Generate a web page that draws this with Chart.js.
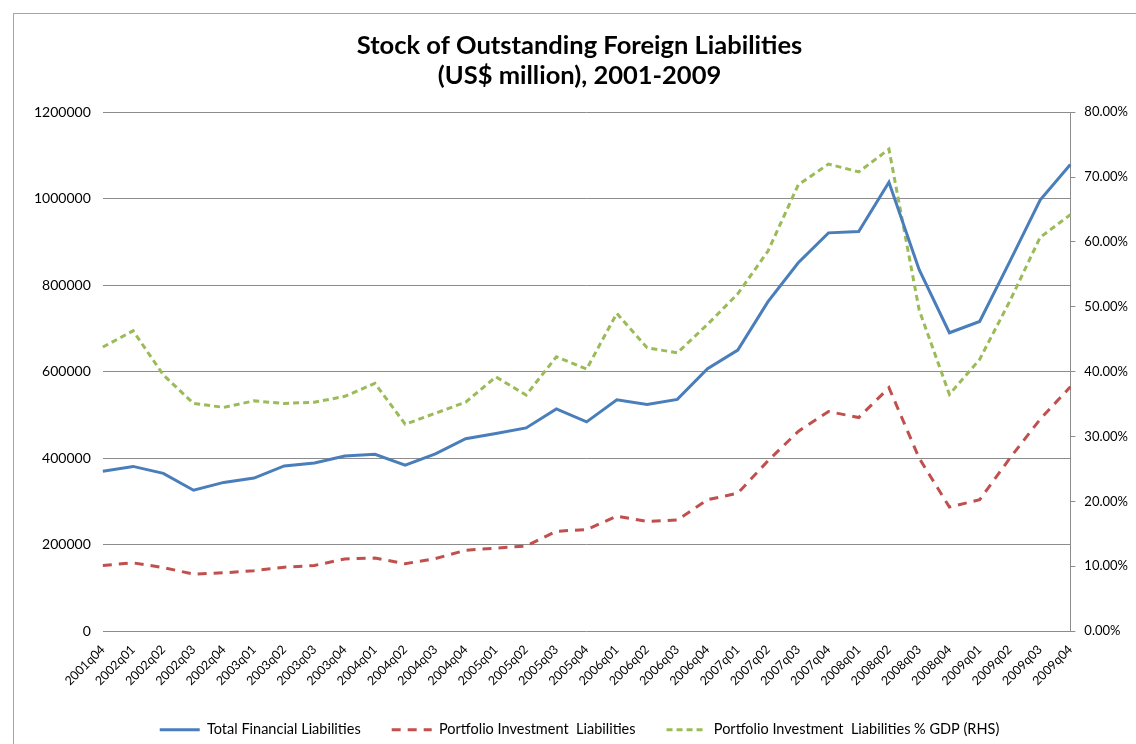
<!DOCTYPE html>
<html>
<head>
<meta charset="utf-8">
<script src="https://cdn.jsdelivr.net/npm/chart.js@4"></script>
<style>
  html, body { margin: 0; padding: 0; background: #fff; }
  #wrap { position: relative; width: 1136px; height: 744px; overflow: hidden; }
  #frame { position: absolute; left: 13px; top: 13px; width: 1200px; height: 800px; border: 1px solid #a6a6a6; }
  #box { position: absolute; left: 0; top: 0; width: 1136px; height: 744px; }
</style>
</head>
<body>
<div id="wrap">
  <div id="frame"></div>
  <div id="box"><canvas id="myChart" width="1136" height="744"></canvas></div>
</div>
<script>
// Dati
const quarters = ['2001q04',
  '2002q01', '2002q02', '2002q03', '2002q04',
  '2003q01', '2003q02', '2003q03', '2003q04',
  '2004q01', '2004q02', '2004q03', '2004q04',
  '2005q01', '2005q02', '2005q03', '2005q04',
  '2006q01', '2006q02', '2006q03', '2006q04',
  '2007q01', '2007q02', '2007q03', '2007q04',
  '2008q01', '2008q02', '2008q03', '2008q04',
  '2009q01', '2009q02', '2009q03', '2009q04'];

const totalLiabilities = [370000,
  381000, 365000, 326000, 344000,
  354000, 382000, 389000, 405000,
  409000, 384000, 410000, 445000,
  457000, 470000, 514000, 484000,
  535000, 524000, 536000, 607000,
  650000, 762000, 852000, 921000,
  924000, 1038000, 836000, 690000,
  716000, 855000, 997000, 1079000];

const portfolioLiabilities = [152000,
  158000, 147000, 132000, 135000,
  140000, 148000, 152000, 167000,
  169000, 156000, 168000, 187000,
  192000, 197000, 231000, 235000,
  266000, 254000, 257000, 304000,
  319000, 394000, 462000, 508000,
  494000, 563000, 400000, 287000,
  304000, 400000, 490000, 565000];

const portfolioPctGdp = [43.8,
  46.3, 39.5, 35.1, 34.5,
  35.5, 35.1, 35.3, 36.2,
  38.2, 31.9, 33.6, 35.3,
  39.2, 36.4, 42.3, 40.4,
  49.0, 43.7, 42.9, 47.3,
  52.0, 58.6, 68.8, 72.0,
  70.8, 74.3, 49.5, 36.5,
  41.9, 50.9, 60.7, 64.2];

const leftTicks = [0, 1200000, 200000];   // min, max, passo
const rightTicks = [0, 80, 10];

const fontFamily = 'Lato, "Open Sans", sans-serif';

const ctx = document.getElementById('myChart').getContext('2d');
const myChart = new Chart(ctx, {
  type: 'line',
  data: {
    labels: quarters,
    datasets: [
      {
        label: 'Total Financial Liabilities',
        data: totalLiabilities,
        borderColor: '#4a7ebb',
        backgroundColor: '#4a7ebb',
        borderWidth: 3,
        yAxisID: 'y'
      },
      {
        label: 'Portfolio Investment  Liabilities',
        data: portfolioLiabilities,
        borderColor: '#c0504d',
        backgroundColor: '#c0504d',
        borderWidth: 3,
        borderDash: [9, 7],
        yAxisID: 'y'
      },
      {
        label: 'Portfolio Investment  Liabilities % GDP (RHS)',
        data: portfolioPctGdp,
        borderColor: '#9bbb59',
        backgroundColor: '#9bbb59',
        borderWidth: 3,
        borderDash: [6, 4],
        yAxisID: 'y1'
      }
    ]
  },
  options: {
    responsive: false,
    animation: false,
    elements: {
      point: { radius: 0, hoverRadius: 0 },
      line: { tension: 0, borderCapStyle: 'butt' }
    },
    layout: { padding: { left: 22, right: -1, top: 30, bottom: -3 } },
    plugins: {
      tooltip: { enabled: false },
      title: {
        display: true,
        text: ['Stock of Outstanding Foreign Liabilities', '(US$ million), 2001-2009'],
        color: '#000',
        font: { family: fontFamily, size: 25.5, weight: 'bold', lineHeight: 1.2 },
        padding: { top: 0, bottom: 21 }
      },
      legend: {
        position: 'bottom',
        labels: {
          usePointStyle: true,
          pointStyle: 'line',
          pointStyleWidth: 40,
          boxHeight: 10,
          padding: 31,
          color: '#000',
          font: { family: fontFamily, size: 14.5 },
          // i campioni della legenda riprendono tratteggio e spessore delle linee
          generateLabels: chart => {
            const items = Chart.defaults.plugins.legend.labels.generateLabels(chart);
            return items.map(item => {
              const ds = chart.data.datasets[item.datasetIndex];
              return Object.assign(item, {
                lineDash: ds.borderDash || [],
                lineWidth: ds.borderWidth,
                strokeStyle: ds.borderColor,
                lineCap: 'butt'
              });
            });
          }
        }
      }
    },
    scales: {
      x: {
        grid: { display: false },
        border: { display: false },
        ticks: {
          color: '#000',
          minRotation: 45,
          maxRotation: 45,
          autoSkip: false,
          font: { family: fontFamily, size: 12.5 }
        }
      },
      y: {
        position: 'left',
        min: leftTicks[0],
        max: leftTicks[1],
        grid: { color: '#8c8c8c', drawTicks: false },
        border: { display: false },
        ticks: {
          stepSize: leftTicks[2],
          padding: 12,
          color: '#000',
          font: { family: fontFamily, size: 14 },
          callback: v => String(v)
        }
      },
      y1: {
        position: 'right',
        min: rightTicks[0],
        max: rightTicks[1],
        grid: { drawOnChartArea: false, color: '#8c8c8c', tickLength: 5 },
        border: { display: true, color: '#8c8c8c' },
        ticks: {
          stepSize: rightTicks[2],
          padding: 9,
          color: '#000',
          font: { family: fontFamily, size: 13 },
          callback: v => v.toFixed(2) + '%'
        }
      }
    }
  }
});
</script>
</body>
</html>
